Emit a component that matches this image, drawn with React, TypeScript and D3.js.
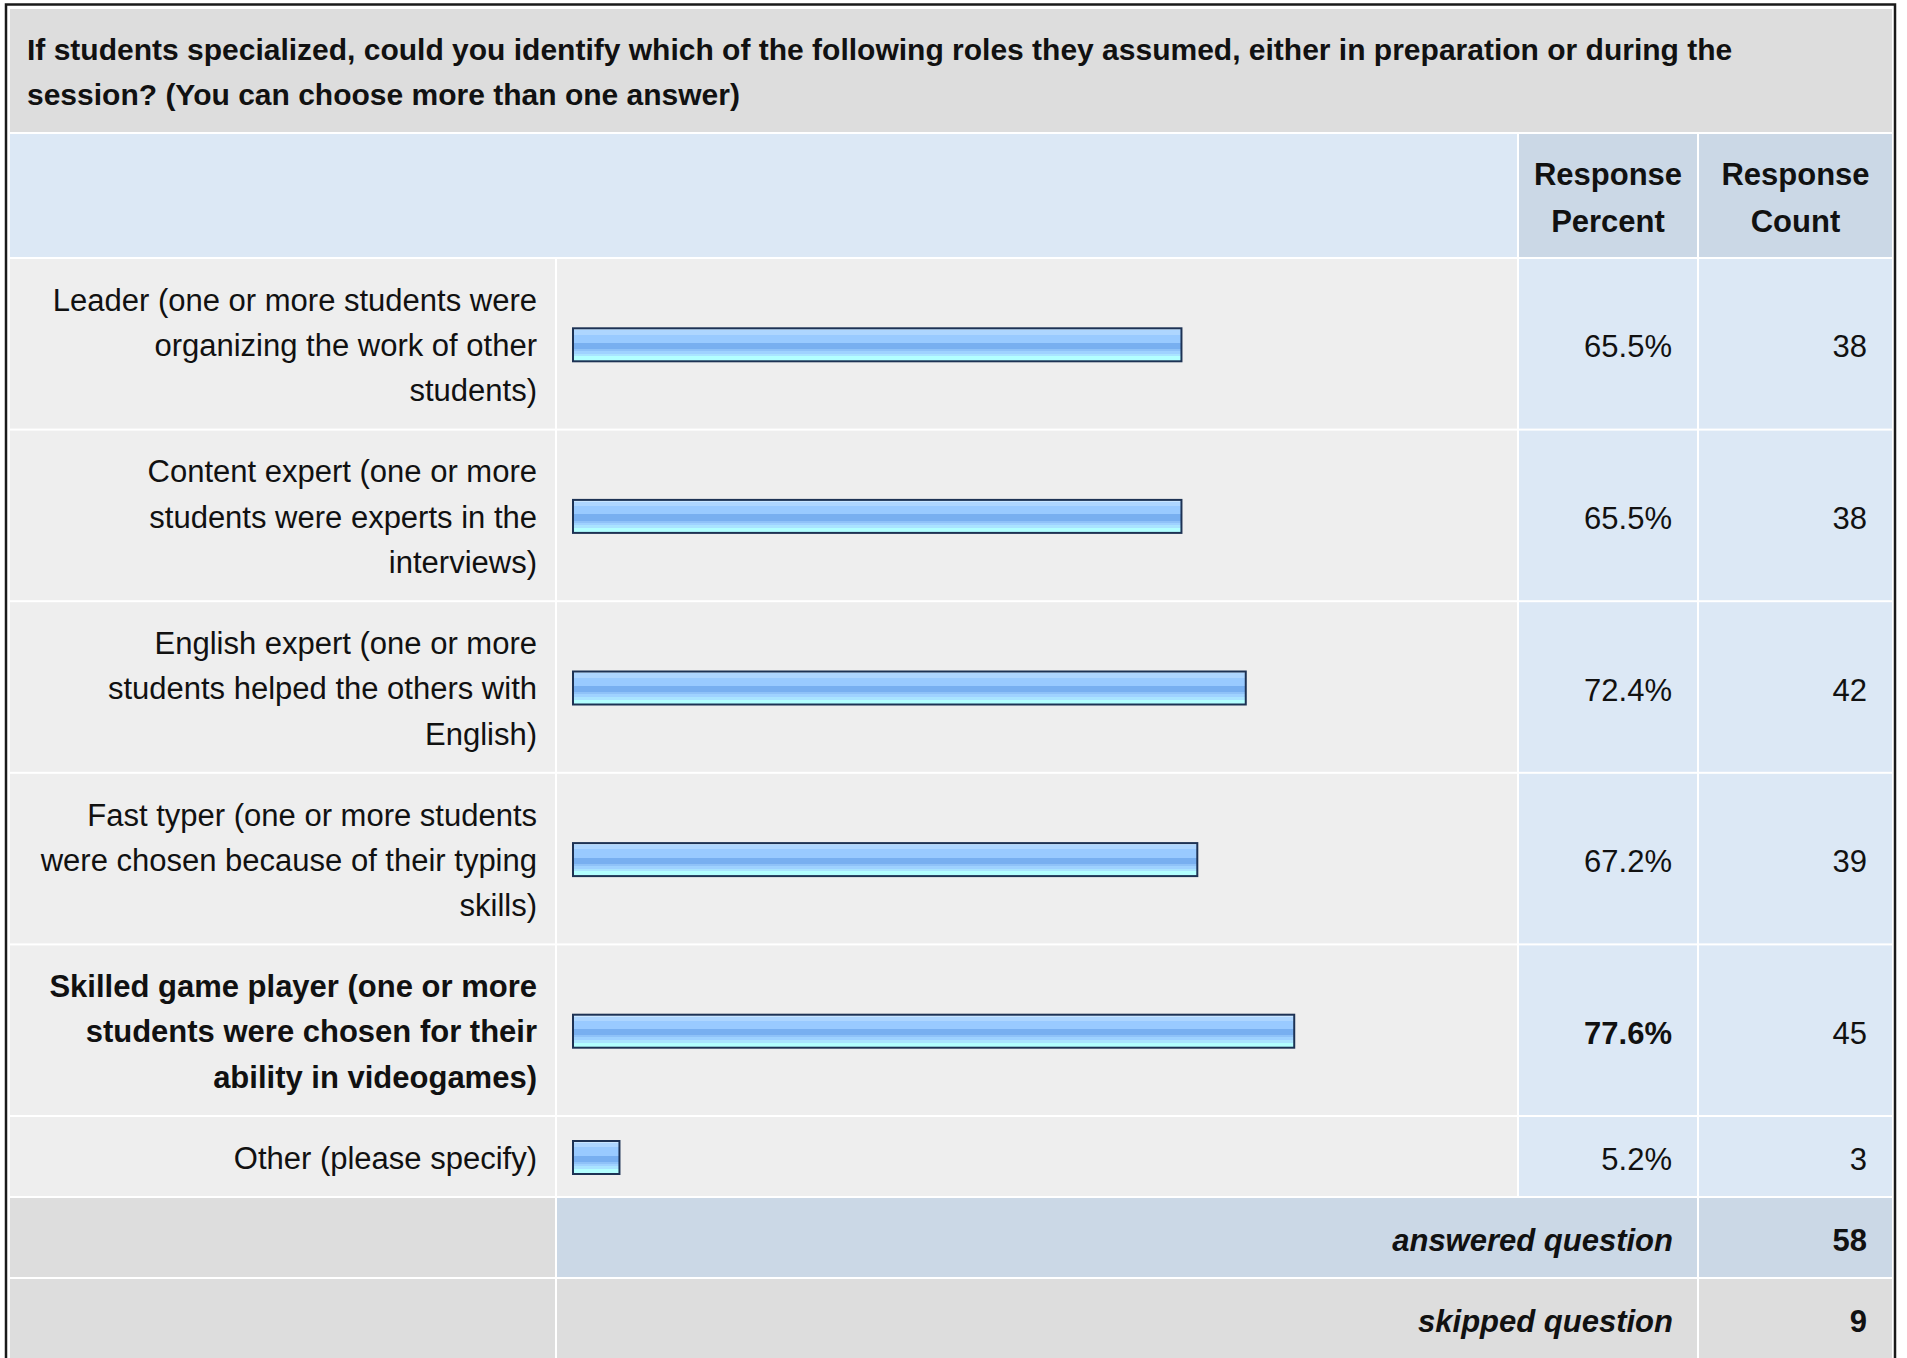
import React from "react";
import * as d3 from "d3";

// survey question + answers
const question = [
  "If students specialized, could you identify which of the following roles they assumed, either in preparation or during the",
  "session? (You can choose more than one answer)",
];
const headerPercent = ["Response", "Percent"];
const headerCount = ["Response", "Count"];

const answerLabels: string[][] = [
  ["Leader (one or more students were", "organizing the work of other", "students)"],
  ["Content expert (one or more", "students were experts in the", "interviews)"],
  ["English expert (one or more", "students helped the others with", "English)"],
  ["Fast typer (one or more students", "were chosen because of their typing", "skills)"],
  ["Skilled game player (one or more", "students were chosen for their", "ability in videogames)"],
  ["Other (please specify)"],
];
const responsePercent = [65.5, 65.5, 72.4, 67.2, 77.6, 5.2];
const responseCount = [38, 38, 42, 39, 45, 3];
const answeredCount = 58;
const skippedCount = 9;

const W = 1907;
const H = 1358;
const FONT = "'Liberation Sans', Arial, Helvetica, sans-serif";
const FS = 31;
const LH = 45.3;
const PAD = 33.7;
const GAP = 2;

const col = {
  label: [10, 555],
  bar: [557, 1517],
  pct: [1519, 1697],
  count: [1699, 1892],
};

const titleBand = [9, 132];
const headerBand = [134, 257];

// glossy bar stripes (hard stops)
const stripes: [number, number, string][] = [
  [0, 0.06, "#c9e5ff"],
  [0.06, 0.19, "#aed6ff"],
  [0.19, 0.44, "#99caff"],
  [0.44, 0.63, "#78aff0"],
  [0.63, 0.69, "#8fc2f8"],
  [0.69, 0.77, "#9fd2ff"],
  [0.77, 0.85, "#aae4ff"],
  [0.85, 1, "#b3ffff"],
];

export default function App() {
  const x = d3.scaleLinear().domain([0, 100]).range([572, 1504]);
  const maxIdx = d3.maxIndex(responsePercent);

  // row geometry from the number of label lines
  let top = headerBand[1] + GAP;
  const rows = answerLabels.map((lines) => {
    const h = PAD + lines.length * LH;
    const r = { top, h };
    top += h + GAP;
    return r;
  });
  const answeredTop = top;
  const footH = PAD + LH;
  const skippedTop = answeredTop + footH + GAP;

  const barH = 35;
  const midBase = (t: number, h: number) => t + h / 2 + 13.5;

  return (
    <svg
      width={W}
      height={H}
      style={{ position: "absolute", left: 0, top: 0, background: "#fff" }}
      fontFamily={FONT}
    >
      <defs>
        <linearGradient id="barGrad" x1="0" y1="0" x2="0" y2="1">
          {stripes.flatMap(([a, b, c], i) => [
            <stop key={i + "a"} offset={a} stopColor={c} />,
            <stop key={i + "b"} offset={b} stopColor={c} />,
          ])}
        </linearGradient>
      </defs>

      {/* question band */}
      <rect x={col.label[0]} y={titleBand[0]} width={col.count[1] - col.label[0]} height={titleBand[1] - titleBand[0]} fill="#dddddd" />
      {question.map((q, i) => (
        <text key={i} x={27} y={60 + i * 45} fontSize={30} fontWeight="bold" fill="#111">
          {q}
        </text>
      ))}

      {/* header */}
      <rect x={col.label[0]} y={headerBand[0]} width={col.bar[1] - col.label[0]} height={headerBand[1] - headerBand[0]} fill="#dce8f5" />
      <rect x={col.pct[0]} y={headerBand[0]} width={col.pct[1] - col.pct[0]} height={headerBand[1] - headerBand[0]} fill="#cbd8e6" />
      <rect x={col.count[0]} y={headerBand[0]} width={col.count[1] - col.count[0]} height={headerBand[1] - headerBand[0]} fill="#cbd8e6" />
      {[
        [headerPercent, (col.pct[0] + col.pct[1]) / 2],
        [headerCount, (col.count[0] + col.count[1]) / 2],
      ].map(([lines, cx], k) =>
        (lines as string[]).map((t, i) => (
          <text key={k + "-" + i} x={cx as number} y={184.5 + i * 47.5} textAnchor="middle" fontSize={FS} fontWeight="bold" fill="#111">
            {t}
          </text>
        ))
      )}

      {/* answer rows */}
      {answerLabels.map((lines, i) => {
        const { top: t, h } = rows[i];
        const bold = i === maxIdx;
        const firstBase = t + (h - lines.length * LH) / 2 + 33.4 + 1.5;
        const by = t + h / 2 - barH / 2 + 1;
        const bw = x(responsePercent[i]) - x(0);
        return (
          <g key={i}>
            <rect x={col.label[0]} y={t} width={col.label[1] - col.label[0]} height={h} fill="#eeeeee" />
            <rect x={col.bar[0]} y={t} width={col.bar[1] - col.bar[0]} height={h} fill="#eeeeee" />
            <rect x={col.pct[0]} y={t} width={col.pct[1] - col.pct[0]} height={h} fill="#dce8f5" />
            <rect x={col.count[0]} y={t} width={col.count[1] - col.count[0]} height={h} fill="#dce8f5" />
            {lines.map((l, j) => (
              <text key={j} x={537} y={firstBase + j * LH} textAnchor="end" fontSize={FS} fontWeight={bold ? "bold" : "normal"} fill="#111">
                {l}
              </text>
            ))}
            <rect x={x(0) + 1} y={by + 1} width={bw - 2} height={barH - 2} fill="url(#barGrad)" stroke="#1d3254" strokeWidth={2} />
            <text x={1672} y={midBase(t, h)} textAnchor="end" fontSize={FS} fontWeight={bold ? "bold" : "normal"} fill="#111">
              {responsePercent[i].toFixed(1)}%
            </text>
            <text x={1867} y={midBase(t, h)} textAnchor="end" fontSize={FS} fill="#111">
              {responseCount[i]}
            </text>
          </g>
        );
      })}

      {/* answered / skipped */}
      <rect x={col.label[0]} y={answeredTop} width={col.label[1] - col.label[0]} height={footH} fill="#dddddd" />
      <rect x={col.bar[0]} y={answeredTop} width={col.pct[1] - col.bar[0]} height={footH} fill="#cbd8e6" />
      <rect x={col.count[0]} y={answeredTop} width={col.count[1] - col.count[0]} height={footH} fill="#cbd8e6" />
      <text x={1673} y={midBase(answeredTop, footH)} textAnchor="end" fontSize={FS} fontWeight="bold" fontStyle="italic" fill="#111">
        answered question
      </text>
      <text x={1867} y={midBase(answeredTop, footH)} textAnchor="end" fontSize={FS} fontWeight="bold" fill="#111">
        {answeredCount}
      </text>

      <rect x={col.label[0]} y={skippedTop} width={col.label[1] - col.label[0]} height={footH} fill="#dddddd" />
      <rect x={col.bar[0]} y={skippedTop} width={col.pct[1] - col.bar[0]} height={footH} fill="#dddddd" />
      <rect x={col.count[0]} y={skippedTop} width={col.count[1] - col.count[0]} height={footH} fill="#dddddd" />
      <text x={1673} y={midBase(skippedTop, footH)} textAnchor="end" fontSize={FS} fontWeight="bold" fontStyle="italic" fill="#111">
        skipped question
      </text>
      <text x={1867} y={midBase(skippedTop, footH)} textAnchor="end" fontSize={FS} fontWeight="bold" fill="#111">
        {skippedCount}
      </text>

      {/* outer frame */}
      <rect x={6} y={4.5} width={1889} height={1400} fill="none" stroke="#1a1a1a" strokeWidth={2.5} />
    </svg>
  );
}
